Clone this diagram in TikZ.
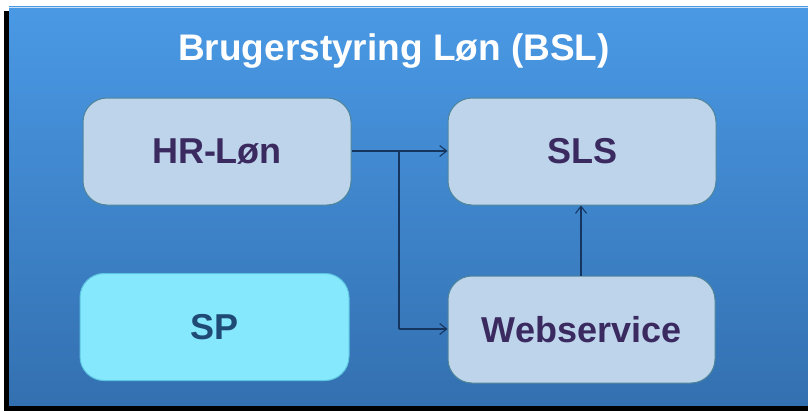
\documentclass[tikz,border=0pt]{standalone}
\usepackage{fontspec}
\setmainfont{Liberation Sans}
\usetikzlibrary{arrows.meta}
\definecolor{bgtop}{HTML}{4A99E5}
\definecolor{bgbot}{HTML}{3370B0}
\definecolor{boxfill}{HTML}{BDD4EB}
\definecolor{boxline}{HTML}{4F8599}
\definecolor{spfill}{HTML}{86E8FD}
\definecolor{spline}{HTML}{5BC5DF}
\definecolor{txtpurple}{HTML}{3B2A60}
\definecolor{txtblue}{HTML}{1E4A75}
\definecolor{arrowc}{HTML}{15355F}
\tikzset{
  boxstyle/.style={draw=boxline, line width=1pt, fill=boxfill, rounded corners=24pt,
    minimum width=268pt, minimum height=107pt, inner sep=0pt,
    font=\fontsize{36}{40}\selectfont\bfseries, text=txtpurple},
  spstyle/.style={boxstyle, draw=spline, fill=spfill, text=txtblue},
  conn/.style={draw=arrowc, line width=1.3pt, -{Straight Barb[length=7pt,width=11pt,line width=1.1pt]}},
  plainconn/.style={draw=arrowc, line width=1.3pt}
}
\begin{document}
\begin{tikzpicture}[x=1pt,y=-1pt]
\useasboundingbox (0,0) rectangle (808,412);
\fill[white] (0,0) rectangle (808,412);
% shadow
\fill[black] (4,11) rectangle (808,411);
% panel
\shade[top color=bgtop, bottom color=bgbot] (9,7) rectangle (808,405);
\draw[white!70!bgtop, line width=1pt] (9,7.5) -- (808,7.5);
% title
\node[text=white, font=\fontsize{37}{40}\selectfont\bfseries] (title) at (394,51) {Brugerstyring Løn (BSL)};
% boxes
\node[boxstyle] (hr) at (217,151.5) {HR-Løn};
\node[boxstyle] (sls) at (582,151.5) {SLS};
\node[spstyle, minimum width=269pt] (sp) at (214.5,327) {SP};
\node[boxstyle, minimum width=267pt] (ws) at (581.5,329.5) {Webservice};
% connectors
\coordinate (br) at (399,151);
\coordinate (bd) at (399,329);
\draw[conn] (hr.east |- br) -- (sls.west |- br);
\draw[plainconn] (br) -- (bd);
\draw[conn] (bd) -- (ws.west |- bd);
\draw[conn] (ws.north -| 581,0) -- (sls.south -| 581,0);
\end{tikzpicture}
\end{document}
